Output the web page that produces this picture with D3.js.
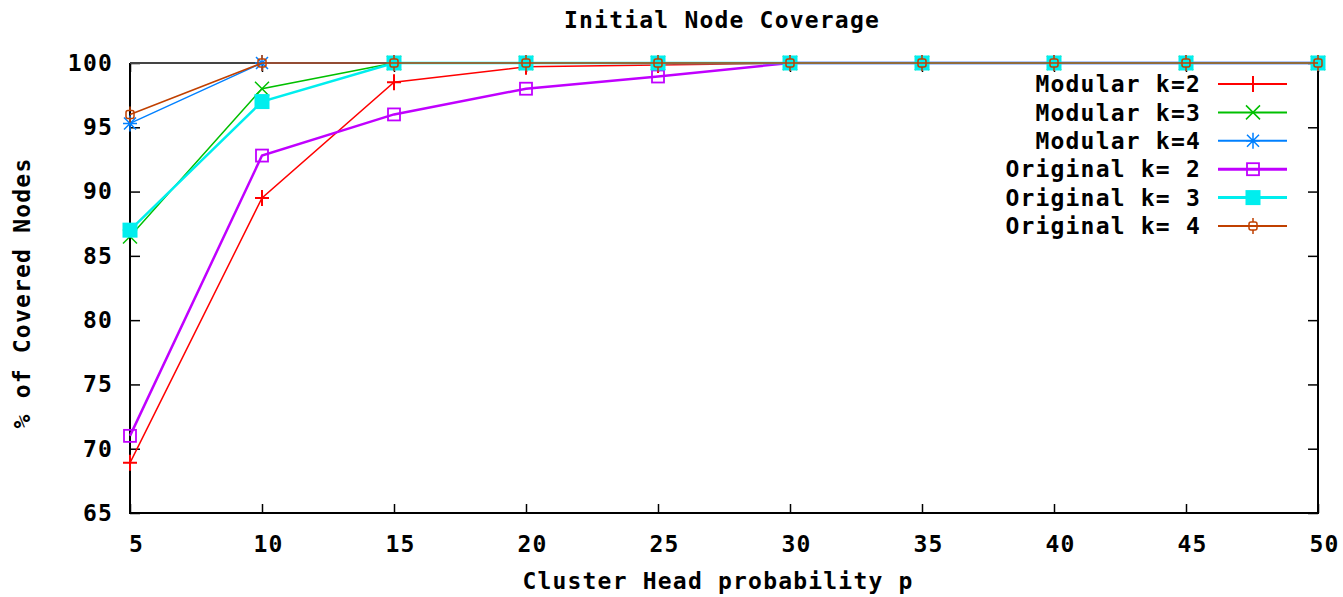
<!DOCTYPE html>
<html>
<head>
<meta charset="utf-8">
<script src="https://cdn.jsdelivr.net/npm/d3@7"></script>
<style>
  body { margin: 0; background: #fff; }
  svg text { font-family: 'DejaVu Sans Mono', monospace; font-weight: bold; font-size: 23px; letter-spacing: 1.2px; fill: #000; }
</style>
</head>
<body>
<svg id="chart" width="1343" height="597"></svg>
<script>
// p values on the x axis
const pValues = [5, 10, 15, 20, 25, 30, 35, 40, 45, 50]
const xTicks = [5, 10, 15, 20, 25, 30, 35, 40, 45, 50]
const yTicks = [65, 70, 75, 80, 85, 90, 95, 100]

const modularK2 = [68.9, 89.5, 98.5, 99.7, 99.85, 100, 100, 100, 100, 100]
const modularK3 = [86.5, 98, 100, 100, 100, 100, 100, 100, 100, 100]
const modularK4 = [95.3, 100, 100, 100, 100, 100, 100, 100, 100, 100]
const originalK2 = [71, 92.8, 96, 98, 98.95, 100, 100, 100, 100, 100]
const originalK3 = [87, 97, 100, 100, 100, 100, 100, 100, 100, 100]
const originalK4 = [96, 100, 100, 100, 100, 100, 100, 100, 100, 100]

const series = [
  { name: 'Modular k=2', values: modularK2, color: '#ff0000', lw: 1.5, pt: 'plus' },
  { name: 'Modular k=3', values: modularK3, color: '#00c000', lw: 1.5, pt: 'cross' },
  { name: 'Modular k=4', values: modularK4, color: '#0080ff', lw: 1.5, pt: 'star' },
  { name: 'Original k= 2', values: originalK2, color: '#c000ff', lw: 2.5, pt: 'box' },
  { name: 'Original k= 3', values: originalK3, color: '#00eeee', lw: 2.5, pt: 'fbox' },
  { name: 'Original k= 4', values: originalK4, color: '#c04000', lw: 1.5, pt: 'circ' }
]

const pLeft = 130, pRight = 1318, pTop = 63, pBottom = 513
const svg = d3.select('#chart')

const x = d3.scaleLinear().domain([5, 50]).range([pLeft, pRight])
const y = d3.scaleLinear().domain([65, 100]).range([pBottom, pTop])

svg.append('text')
  .attr('x', 722).attr('y', 28)
  .style('text-anchor', 'middle')
  .text('Initial Node Coverage')

// ticks, gnuplot style (inward, mirrored)
const gl = svg.append('g').attr('transform', `translate(${pLeft},0)`)
  .call(d3.axisLeft(y).tickValues(yTicks).tickSize(-10).tickPadding(17))
const gr = svg.append('g').attr('transform', `translate(${pRight},0)`)
  .call(d3.axisRight(y).tickValues(yTicks).tickSize(-10).tickFormat(''))
const gb = svg.append('g').attr('transform', `translate(0,${pBottom})`)
  .call(d3.axisBottom(x).tickValues(xTicks).tickSize(-9).tickPadding(23))
const gt = svg.append('g').attr('transform', `translate(0,${pTop})`)
  .call(d3.axisTop(x).tickValues(xTicks).tickSize(-9).tickFormat(''))

;[gl, gr, gb, gt].forEach(g => {
  g.select('.domain').remove()
  g.attr('font-size', null).attr('font-family', null)
  g.selectAll('line').attr('stroke', '#000').attr('stroke-width', 1.5)
  g.selectAll('text').attr('fill', '#000')
})
gb.selectAll('text').attr('dx', 6)

svg.append('text')
  .attr('transform', 'translate(30,293) rotate(-90)')
  .style('text-anchor', 'middle')
  .text('% of Covered Nodes')

svg.append('text')
  .attr('x', 718).attr('y', 589)
  .style('text-anchor', 'middle')
  .text('Cluster Head probability p')

function marker (g, pt, color, cx, cy) {
  if (pt === 'plus') {
    g.append('path').attr('d', `M${cx - 7},${cy}H${cx + 7}M${cx},${cy - 8}V${cy + 8}`)
      .attr('stroke', color).attr('stroke-width', 2).attr('fill', 'none')
  } else if (pt === 'cross') {
    g.append('path').attr('d', `M${cx - 7},${cy - 7}L${cx + 7},${cy + 7}M${cx - 7},${cy + 7}L${cx + 7},${cy - 7}`)
      .attr('stroke', color).attr('stroke-width', 1.5).attr('fill', 'none')
  } else if (pt === 'star') {
    g.append('path').attr('d', `M${cx - 7},${cy}H${cx + 7}M${cx},${cy - 8}V${cy + 8}M${cx - 6},${cy - 6}L${cx + 6},${cy + 6}M${cx - 6},${cy + 6}L${cx + 6},${cy - 6}`)
      .attr('stroke', color).attr('stroke-width', 1.5).attr('fill', 'none')
  } else if (pt === 'box') {
    g.append('rect').attr('x', cx - 6).attr('y', cy - 6).attr('width', 12).attr('height', 12)
      .attr('stroke', color).attr('stroke-width', 1.8).attr('fill', 'none')
  } else if (pt === 'fbox') {
    g.append('rect').attr('x', cx - 7.5).attr('y', cy - 7.5).attr('width', 15).attr('height', 15)
      .attr('fill', color)
  } else if (pt === 'circ') {
    g.append('path').attr('d', `M${cx},${cy - 8}V${cy - 4}M${cx},${cy + 4}V${cy + 8}`)
      .attr('stroke', color).attr('stroke-width', 1.5)
    g.append('rect').attr('x', cx - 4).attr('y', cy - 4).attr('width', 8).attr('height', 8).attr('rx', 2)
      .attr('stroke', color).attr('stroke-width', 1.5).attr('fill', 'none')
  }
}

const line = d3.line().x((d, i) => x(pValues[i])).y(d => y(d))

// frame first, data drawn over it like gnuplot
svg.append('path')
  .attr('d', `M${pLeft},${pTop}V${pBottom}H${pRight}V${pTop}`)
  .attr('fill', 'none').attr('stroke', '#000').attr('stroke-width', 2)
svg.append('line')
  .attr('x1', pLeft).attr('x2', pRight).attr('y1', pTop).attr('y2', pTop)
  .attr('stroke', '#444').attr('stroke-width', 2)

series.forEach(s => {
  const g = svg.append('g')
  g.append('path').datum(s.values)
    .attr('d', line)
    .attr('fill', 'none')
    .attr('stroke', s.color)
    .attr('stroke-width', s.lw)
  s.values.forEach((v, i) => marker(g, s.pt, s.color, x(pValues[i]), y(v)))
})

// legend
const legend = svg.append('g')
series.forEach((s, i) => {
  const ly = 84 + i * 28.4
  legend.append('text')
    .attr('x', 1201).attr('y', ly).attr('dy', '0.36em')
    .style('text-anchor', 'end')
    .text(s.name)
  legend.append('line')
    .attr('x1', 1218).attr('x2', 1287).attr('y1', ly).attr('y2', ly)
    .attr('stroke', s.color).attr('stroke-width', s.lw + 0.5)
  marker(legend, s.pt, s.color, 1253, ly)
})
</script>
</body>
</html>
